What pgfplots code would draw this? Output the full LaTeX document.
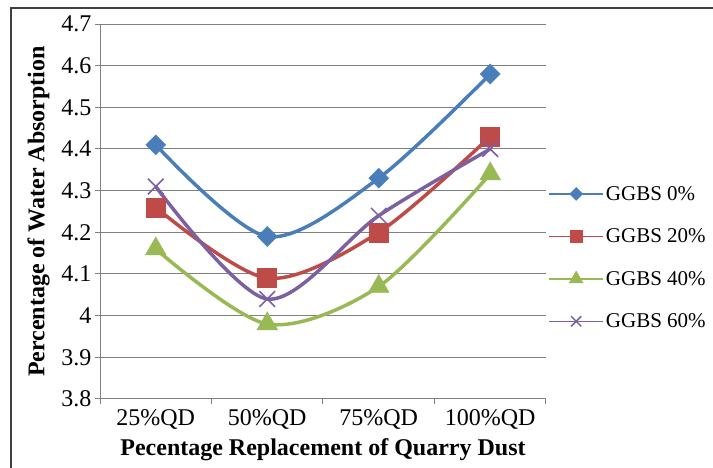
\documentclass[border=0pt]{standalone}
\usepackage{fontspec}
\setmainfont{Liberation Serif}
\usepackage{pgfplots}
\pgfplotsset{compat=1.18}
\definecolor{cblue}{HTML}{4A7EBB}
\definecolor{cred}{HTML}{BE4B48}
\definecolor{cgreen}{HTML}{98B954}
\definecolor{cpurple}{HTML}{7D60A0}
\begin{document}
\begin{tikzpicture}[x=1pt,y=1pt]
\useasboundingbox (0pt,0pt) rectangle (713pt,468pt);
\draw[line width=2pt, color=black!75] (11pt,-20pt) rectangle (740pt,460pt);
\begin{axis}[
  at={(100pt,69pt)}, anchor=south west,
  scale only axis, width=446pt, height=375pt,
  xmin=0, xmax=4, ymin=3.8, ymax=4.7,
  axis lines=left, axis line style={-, draw=black!50, line width=1pt},
  xtick={0,1,2,3,4}, xticklabels={},
  extra x ticks={0.5,1.5,2.5,3.5},
  extra x tick labels={25\%QD,50\%QD,75\%QD,100\%QD},
  extra x tick style={major tick length=7pt, grid=none, tick style={draw=none}},
  ytick={3.8,3.9,4.0,4.1,4.2,4.3,4.4,4.5,4.6,4.7},
  yticklabels={3.8,3.9,4,4.1,4.2,4.3,4.4,4.5,4.6,4.7},
  ymajorgrids, grid style={black!50, line width=1pt},
  tick align=outside, major tick length=5pt, tick style={black!50, line width=1pt},
  tick label style={font=\fontsize{24}{28}\selectfont},
  xlabel={\bfseries Pecentage Replacement of Quarry Dust},
  ylabel={\bfseries Percentage of Water Absorption},
  label style={font=\fontsize{24}{28}\selectfont},
  xlabel shift=-3pt,
  ylabel shift=5pt,
  legend style={at={(1.005,0.377)}, anchor=west, draw=none, fill=none,
    font=\fontsize{21}{25}\selectfont, row sep=23pt, inner sep=0pt},
  legend cell align=left,
  legend image code/.code={\draw[mark repeat=2,mark phase=2, line width=1.5pt, /tikz/every mark/.append style={scale=0.65}] plot coordinates {(0pt,0pt) (27pt,0pt) (54pt,0pt)};},
  clip=false,
]
\addplot[cblue, line width=3.5pt, smooth, mark=square*, mark size=7pt, mark options={rotate=45, fill=cblue, draw=cblue, line width=0.5pt}] coordinates {(0.5,4.41)(1.5,4.19)(2.5,4.33)(3.5,4.58)};
\addlegendentry{GGBS 0\%}
\addplot[cred, line width=3.5pt, smooth, mark=square*, mark size=9.5pt, mark options={fill=cred, draw=cred, line width=0.5pt}] coordinates {(0.5,4.26)(1.5,4.09)(2.5,4.20)(3.5,4.43)};
\addlegendentry{GGBS 20\%}
\addplot[cgreen, line width=3.5pt, smooth, mark=triangle*, mark size=12pt, mark options={fill=cgreen, draw=cgreen, line width=0.5pt}] coordinates {(0.5,4.16)(1.5,3.98)(2.5,4.07)(3.5,4.34)};
\addlegendentry{GGBS 40\%}
\addplot[cpurple, line width=3.5pt, smooth, mark=x, mark size=11pt, mark options={draw=cpurple, line width=1.5pt}] coordinates {(0.5,4.31)(1.5,4.04)(2.5,4.24)(3.5,4.40)};
\addlegendentry{GGBS 60\%}
\end{axis}
\end{tikzpicture}
\end{document}
